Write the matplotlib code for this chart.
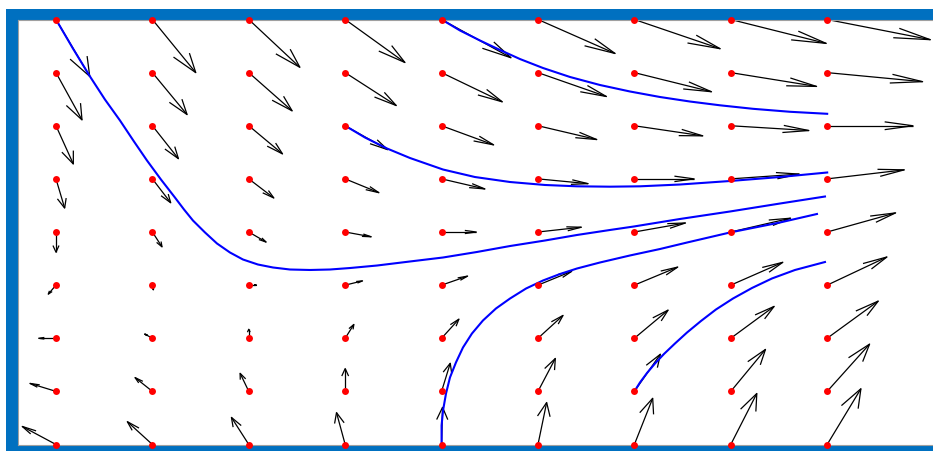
import numpy as np
import matplotlib
matplotlib.use("Agg")
import matplotlib.pyplot as plt
from matplotlib.collections import LineCollection
from matplotlib.patches import Rectangle

# Grade do campo de direções
xs = [0, 1, 2, 3, 4, 5, 6, 7, 8]
ys = [0, 1, 2, 3, 4, 5, 6, 7, 8]

# Componente horizontal das setas (uma linha por valor de y, de baixo para cima)
U = [
    [-0.35, -0.26, -0.18, -0.09, 0.01, 0.09, 0.19, 0.27, 0.35],
    [-0.27, -0.18, -0.09, 0.00, 0.09, 0.18, 0.27, 0.36, 0.44],
    [-0.18, -0.08, 0.00, 0.09, 0.18, 0.26, 0.35, 0.45, 0.53],
    [-0.08, 0.01, 0.08, 0.18, 0.27, 0.35, 0.45, 0.54, 0.62],
    [0.00, 0.10, 0.18, 0.27, 0.36, 0.45, 0.53, 0.62, 0.71],
    [0.09, 0.19, 0.26, 0.35, 0.45, 0.52, 0.62, 0.71, 0.80],
    [0.18, 0.27, 0.35, 0.44, 0.54, 0.61, 0.71, 0.81, 0.89],
    [0.27, 0.36, 0.45, 0.53, 0.63, 0.71, 0.80, 0.89, 0.99],
    [0.35, 0.45, 0.53, 0.62, 0.72, 0.80, 0.89, 0.99, 1.07],
]
# Componente vertical das setas
V = [
    [0.34, 0.43, 0.51, 0.60, 0.70, 0.79, 0.87, 0.96, 1.05],
    [0.15, 0.26, 0.34, 0.43, 0.53, 0.62, 0.70, 0.79, 0.89],
    [0.00, 0.08, 0.17, 0.26, 0.36, 0.43, 0.53, 0.60, 0.70],
    [-0.17, -0.09, 0.00, 0.08, 0.17, 0.26, 0.34, 0.43, 0.53],
    [-0.38, -0.28, -0.19, -0.09, 0.00, 0.09, 0.17, 0.26, 0.36],
    [-0.55, -0.45, -0.36, -0.26, -0.19, -0.09, 0.00, 0.09, 0.17],
    [-0.72, -0.62, -0.53, -0.45, -0.36, -0.26, -0.19, -0.09, 0.00],
    [-0.89, -0.79, -0.72, -0.62, -0.55, -0.45, -0.36, -0.26, -0.17],
    [-1.07, -1.00, -0.90, -0.81, -0.72, -0.64, -0.55, -0.45, -0.38],
]

# Trajetórias (soluções) partindo de alguns pontos da grade
traj1_x = [0.0, 0.176, 0.353, 0.508, 0.664, 0.809, 0.944, 1.089, 1.234, 1.328, 1.421,
           1.546, 1.670, 1.805, 1.940, 2.095, 2.251, 2.427, 2.635, 2.842, 3.050, 3.330,
           3.672, 4.015, 4.367, 4.710, 5.073, 5.405, 5.747, 5.996, 6.473, 6.992, 7.510, 7.977]
traj1_y = [8.0, 7.454, 6.927, 6.494, 6.099, 5.704, 5.346, 4.988, 4.649, 4.424, 4.216,
           3.991, 3.784, 3.614, 3.482, 3.388, 3.332, 3.294, 3.285, 3.294, 3.322, 3.369,
           3.445, 3.520, 3.624, 3.736, 3.840, 3.944, 4.038, 4.104, 4.245, 4.386, 4.536, 4.668]
traj2_x = [4.0, 4.191, 4.398, 4.606, 4.813, 5.052, 5.332, 5.643, 5.954, 6.266, 6.577,
           6.888, 7.230, 7.614, 8.0]
traj2_y = [8.0, 7.793, 7.605, 7.426, 7.256, 7.087, 6.918, 6.767, 6.645, 6.541, 6.456,
           6.385, 6.319, 6.263, 6.225]
traj3_x = [3.0, 3.205, 3.434, 3.672, 4.015, 4.346, 4.710, 5.073, 5.405, 5.747, 6.058,
           6.473, 6.992, 7.510, 8.0]
traj3_y = [6.0, 5.779, 5.572, 5.393, 5.176, 5.035, 4.941, 4.885, 4.860, 4.853, 4.860,
           4.894, 4.960, 5.035, 5.120]
traj4_x = [4.0, 4.0, 4.015, 4.046, 4.087, 4.149, 4.222, 4.315, 4.429, 4.564, 4.710,
           4.876, 5.052, 5.228, 5.405, 5.643, 5.954, 6.266, 6.546, 6.992, 7.510, 7.894]
traj4_y = [0.0, 0.358, 0.640, 0.960, 1.261, 1.544, 1.826, 2.089, 2.334, 2.560, 2.748,
           2.936, 3.087, 3.209, 3.313, 3.426, 3.558, 3.680, 3.802, 3.991, 4.179, 4.339]
traj5_x = [6.0, 6.058, 6.131, 6.214, 6.307, 6.421, 6.546, 6.691, 6.846, 7.023, 7.220,
           7.427, 7.666, 7.977]
traj5_y = [1.0, 1.167, 1.346, 1.525, 1.704, 1.901, 2.108, 2.325, 2.541, 2.748, 2.946,
           3.125, 3.285, 3.435]

trajetorias = [(traj1_x, traj1_y), (traj2_x, traj2_y), (traj3_x, traj3_y),
               (traj4_x, traj4_y), (traj5_x, traj5_y)]

W, H = 933, 451
fig = plt.figure(figsize=(W / 100, H / 100), dpi=100, facecolor="white")

# moldura azul atrás dos eixos
moldura = Rectangle((6 / W, -0.1), 1.2, 1 - 9 / H + 0.1, transform=fig.transFigure,
                    facecolor="#0070c0", edgecolor="none", zorder=-1)
fig.patches.append(moldura)

ax = fig.add_axes([18 / W, 6.5 / H, 944 / W, 425 / H])
ax.set_xlim(-0.394, -0.394 + 944 / 96.4)
ax.set_ylim(0, 8)
ax.set_xticks([])
ax.set_yticks([])
for s in ax.spines.values():
    s.set_color("#a0a0a0")
    s.set_linewidth(0.8)

# setas com cabeça aberta (duas barbas), tamanho proporcional ao vetor
alpha, beta = 0.33, 0.25
segs = []
for i, y in enumerate(ys):
    for j, x in enumerate(xs):
        u, v = U[i][j], V[i][j]
        tx, ty = x + u, y + v
        segs.append([(x, y), (tx, ty)])
        b1 = (tx - alpha * (u + beta * v), ty - alpha * (v - beta * u))
        b2 = (tx - alpha * (u - beta * v), ty - alpha * (v + beta * u))
        segs.append([b1, (tx, ty), b2])
ax.add_collection(LineCollection(segs, colors="black", linewidths=0.9, zorder=2))

for tx_, ty_ in trajetorias:
    ax.plot(tx_, ty_, color="blue", lw=1.5, zorder=3, solid_joinstyle="round")

X, Y = np.meshgrid(xs, ys)
ax.plot(X.ravel(), Y.ravel(), "o", color="red", ms=5, mec="none", clip_on=False, zorder=4)

fig.savefig("out.png", dpi=100)
